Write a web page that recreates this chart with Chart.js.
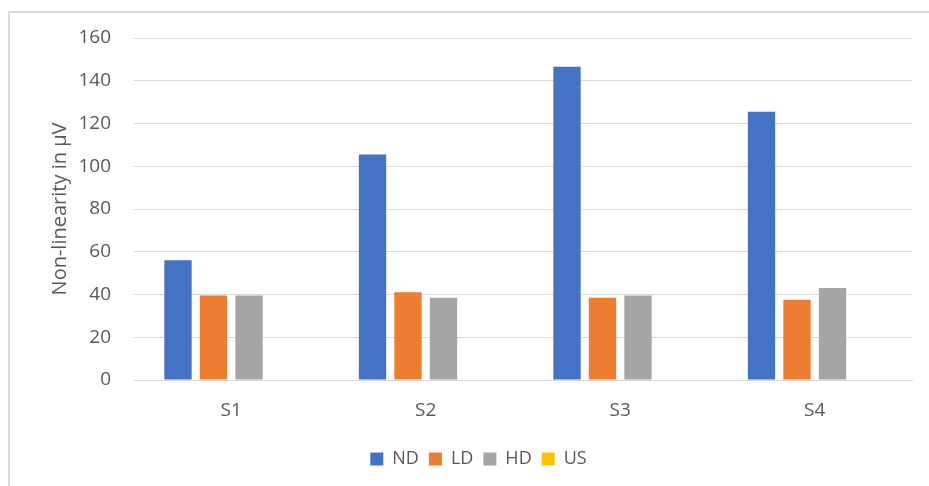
<!DOCTYPE html>
<html lang="en">
<head>
    <meta charset="UTF-8">
    <title>Non-linearity</title>
    <script src="https://cdn.jsdelivr.net/npm/chart.js"></script>
    <style>
        body {
            margin: 0;
            background: #fff;
        }
        .wrap {
            position: relative;
            width: 929px;
            height: 486px;
            overflow: hidden;
        }
        .frame {
            position: absolute;
            left: 8px;
            top: 11px;
            width: 1000px;
            height: 600px;
            border-left: 2px solid #d9d9d9;
            border-top: 2px solid #d9d9d9;
        }
        canvas {
            position: absolute;
            left: 0;
            top: 0;
        }
    </style>
</head>
<body>
    <div class="wrap">
        <div class="frame"></div>
        <canvas id="chart" width="929" height="486"></canvas>
    </div>

    <script>
        // data
        const categories = ['S1', 'S2', 'S3', 'S4'];
        const ndValues = [56, 105.5, 146.5, 125.5];
        const ldValues = [39.5, 41, 38.5, 37.5];
        const hdValues = [39.5, 38.5, 39.5, 43];
        const usValues = [0, 0, 0, 0];
        const yTicks = [0, 20, 40, 60, 80, 100, 120, 140, 160];

        const textColor = '#595959';
        const gridColor = '#d9d9d9';
        const fontFamily = "'Open Sans', 'Liberation Sans', sans-serif";

        function bars(label, data, color) {
            return {
                label: label,
                data: data,
                backgroundColor: color,
                borderWidth: 0,
                categoryPercentage: 0.73,
                barPercentage: 0.77
            };
        }

        new Chart(document.getElementById('chart'), {
            type: 'bar',
            data: {
                labels: categories,
                datasets: [
                    bars('ND', ndValues, '#4472C4'),
                    bars('LD', ldValues, '#ED7D31'),
                    bars('HD', hdValues, '#A5A5A5'),
                    bars('US', usValues, '#FFC000')
                ]
            },
            options: {
                responsive: false,
                animation: false,
                layout: {
                    padding: { left: 45, right: 17, top: 38, bottom: 8 }
                },
                scales: {
                    x: {
                        grid: { display: false, drawTicks: false },
                        border: { display: true, color: gridColor, width: 1 },
                        ticks: {
                            color: textColor,
                            font: { family: fontFamily, size: 19 },
                            padding: 19
                        },
                        afterFit: function (scale) { scale.height = 60; }
                    },
                    y: {
                        min: 0,
                        max: 160,
                        afterBuildTicks: function (scale) {
                            scale.ticks = yTicks.map(v => ({ value: v }));
                        },
                        grid: { color: gridColor, lineWidth: 1, drawTicks: false },
                        border: { display: false },
                        ticks: {
                            color: textColor,
                            font: { family: fontFamily, size: 19 },
                            padding: 23
                        },
                        title: {
                            display: true,
                            text: 'Non-linearity in µV',
                            color: textColor,
                            font: { family: fontFamily, size: 20 },
                            padding: { top: 3, bottom: 0 }
                        },
                        afterFit: function (scale) { scale.width = 89; }
                    }
                },
                plugins: {
                    legend: {
                        position: 'bottom',
                        labels: {
                            color: textColor,
                            font: { family: fontFamily, size: 18 },
                            boxWidth: 13,
                            boxHeight: 13,
                            padding: 10
                        }
                    },
                    tooltip: { enabled: false }
                }
            }
        });
    </script>
</body>
</html>
